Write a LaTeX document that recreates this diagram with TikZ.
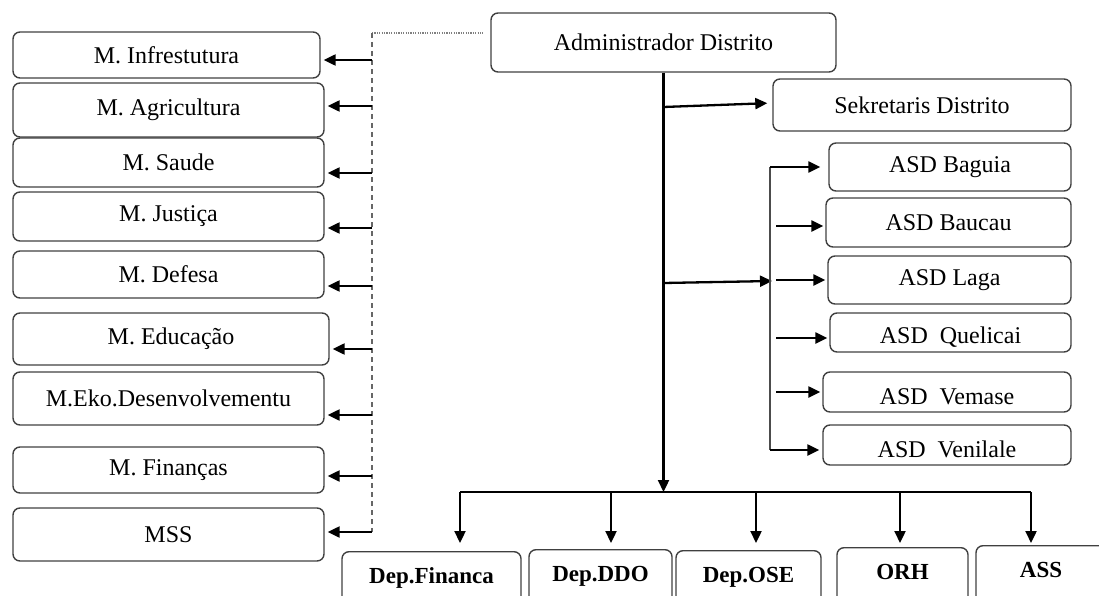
\documentclass[tikz,border=0pt]{standalone}
\usepackage{fontspec}
\setmainfont{Liberation Serif}
\usetikzlibrary{positioning,arrows.meta}

\begin{document}
\begin{tikzpicture}[x=1pt, y=-1pt, >={Triangle[length=12pt,width=11pt]}]
    \tikzset{
        box/.style={draw=black!75, line width=1.4pt, rounded corners=7pt, align=center, inner sep=0pt, font=\fontsize{24}{28}\selectfont},
        ministry/.style={box, minimum width=311pt, minimum height=49pt},
        office/.style={box, minimum width=243pt, minimum height=48pt},
        lowtext/.style 2 args={text height=#1pt, text depth=#2pt},
        dept/.style={box, anchor=north, inner ysep=16pt, text height=16pt, text depth=40pt, font=\fontsize{23}{27}\selectfont\bfseries},
        flow/.style={->, line width=2.3pt},
        link/.style={line width=2pt},
        dashedlink/.style={draw=black!60, line width=1.8pt, dash pattern=on 5pt off 4pt},
        dottedlink/.style={draw=black!50, line width=1.4pt, dash pattern=on 1.2pt off 1.2pt}
    }
    \useasboundingbox (0,0) rectangle (1099,596);
    \clip (0,0) rectangle (1099,596);

    % ministries on the left
    \node[ministry, minimum width=307pt, minimum height=46pt] (infra) at (166.5,55) {M. Infrestutura};
    \node[ministry, minimum height=54pt] (agri) at (168.5,110) {M. Agricultura};
    \node[ministry] (saude) at (168.5,162.5) {M. Saude};
    \node[ministry] (justica) at (168.5,216.5) {M. Justiça};
    \node[ministry, minimum height=47pt] (defesa) at (168.5,274.5) {M. Defesa};
    \node[ministry, minimum width=316pt, minimum height=52pt] (educ) at (171,339) {M. Educação};
    \node[ministry, minimum height=53pt] (eko) at (168.5,398.5) {M.Eko.Desenvolvementu};
    \node[ministry, minimum height=46pt] (finan) at (168.5,470) {M. Finanças};
    \node[ministry, minimum height=53pt] (mss) at (168.5,534.5) {MSS};

    % district offices
    \node[box, minimum width=345pt, minimum height=59pt] (admin) at (663.5,42.5) {Administrador Distrito};
    \node[box, minimum width=298pt, minimum height=52pt] (sekretaris) at (922,105) {Sekretaris Distrito};
    \node[office, minimum width=242pt] (baguia) at (950,167) {ASD Baguia};
    \node[office, minimum width=245pt, minimum height=49pt] (baucau) at (948.5,222.5) {ASD Baucau};
    \node[office] (laga) at (949.5,280) {ASD Laga};
    \node[office, minimum width=241pt, minimum height=39pt, lowtext={30}{9}] (quelicai) at (950.5,332.5) {ASD~~Quelicai};
    \node[office, minimum width=248pt, minimum height=40pt, lowtext={32}{8}] (vemase) at (947,392) {ASD~~Vemase};
    \node[office, minimum width=248pt, minimum height=40pt, lowtext={32}{8}] (venilale) at (947,445) {ASD~~Venilale};

    % departments at the bottom
    \node[dept, minimum width=179pt] (depfin) at (431.5,551) {Dep.Financa};
    \node[dept, minimum width=143pt] (depddo) at (600.5,549) {Dep.DDO};
    \node[dept, minimum width=145pt] (depose) at (748.5,550) {Dep.OSE};
    \node[dept, minimum width=131pt] (orh) at (902.5,547) {ORH};
    \node[dept, minimum width=130pt] (ass) at (1041,545) {ASS};

    % line to the ministries
    \coordinate (dtop) at (372,33);
    \coordinate (dend) at (483,33);
    \coordinate (dbot) at (372,532);
    \draw[dottedlink] (dtop) -- (dend);
    \draw[dashedlink] (dtop) -- (dbot);
    \foreach \n/\y in {infra/60, agri/106, saude/173, justica/228, defesa/286, educ/349, eko/415, finan/476, mss/532}{
        \coordinate (from-\n) at (372,\y);
        \draw[flow, shorten >=3pt] (from-\n) -- (from-\n -| \n.east);
    }

    % main line
    \coordinate (hub) at (663.5,492);
    \draw[flow] (admin.south) -- (hub);
    \coordinate (sek-from) at (663.5,107);
    \draw[flow, shorten >=5pt] (sek-from) -- ([yshift=2pt]sekretaris.west);

    % ASD bracket
    \coordinate (asd-from) at (663.5,283);
    \coordinate (asd-bus) at (772,281);
    \draw[flow] (asd-from) -- (asd-bus);
    \coordinate (bus-top) at (770,167);
    \coordinate (bus-bot) at (770,450);
    \draw[link, draw=black!70] (bus-top) -- (bus-bot);
    \draw[flow, shorten >=8pt] (bus-top) -- (baguia.west);
    \draw[flow, shorten >=3pt] (bus-bot) -- (bus-bot -| venilale.west);
    \foreach \n/\y in {baucau/226, laga/280, quelicai/338, vemase/392}{
        \coordinate (to-\n) at (776,\y);
        \draw[flow, shorten >=2pt] (to-\n) -- (to-\n -| \n.west);
    }

    % departments
    \coordinate (bus-l) at (460,492);
    \coordinate (bus-r) at (1031,492);
    \draw[link] (bus-l) -- (bus-r);
    \foreach \n/\x/\s in {depfin/460/8, depddo/611/6, depose/756/7, orh/900/4, ass/1031/2}{
        \coordinate (down-\n) at (\x,492);
        \draw[flow, shorten >=\s pt] (down-\n) -- (down-\n |- \n.north);
    }
\end{tikzpicture}
\end{document}
